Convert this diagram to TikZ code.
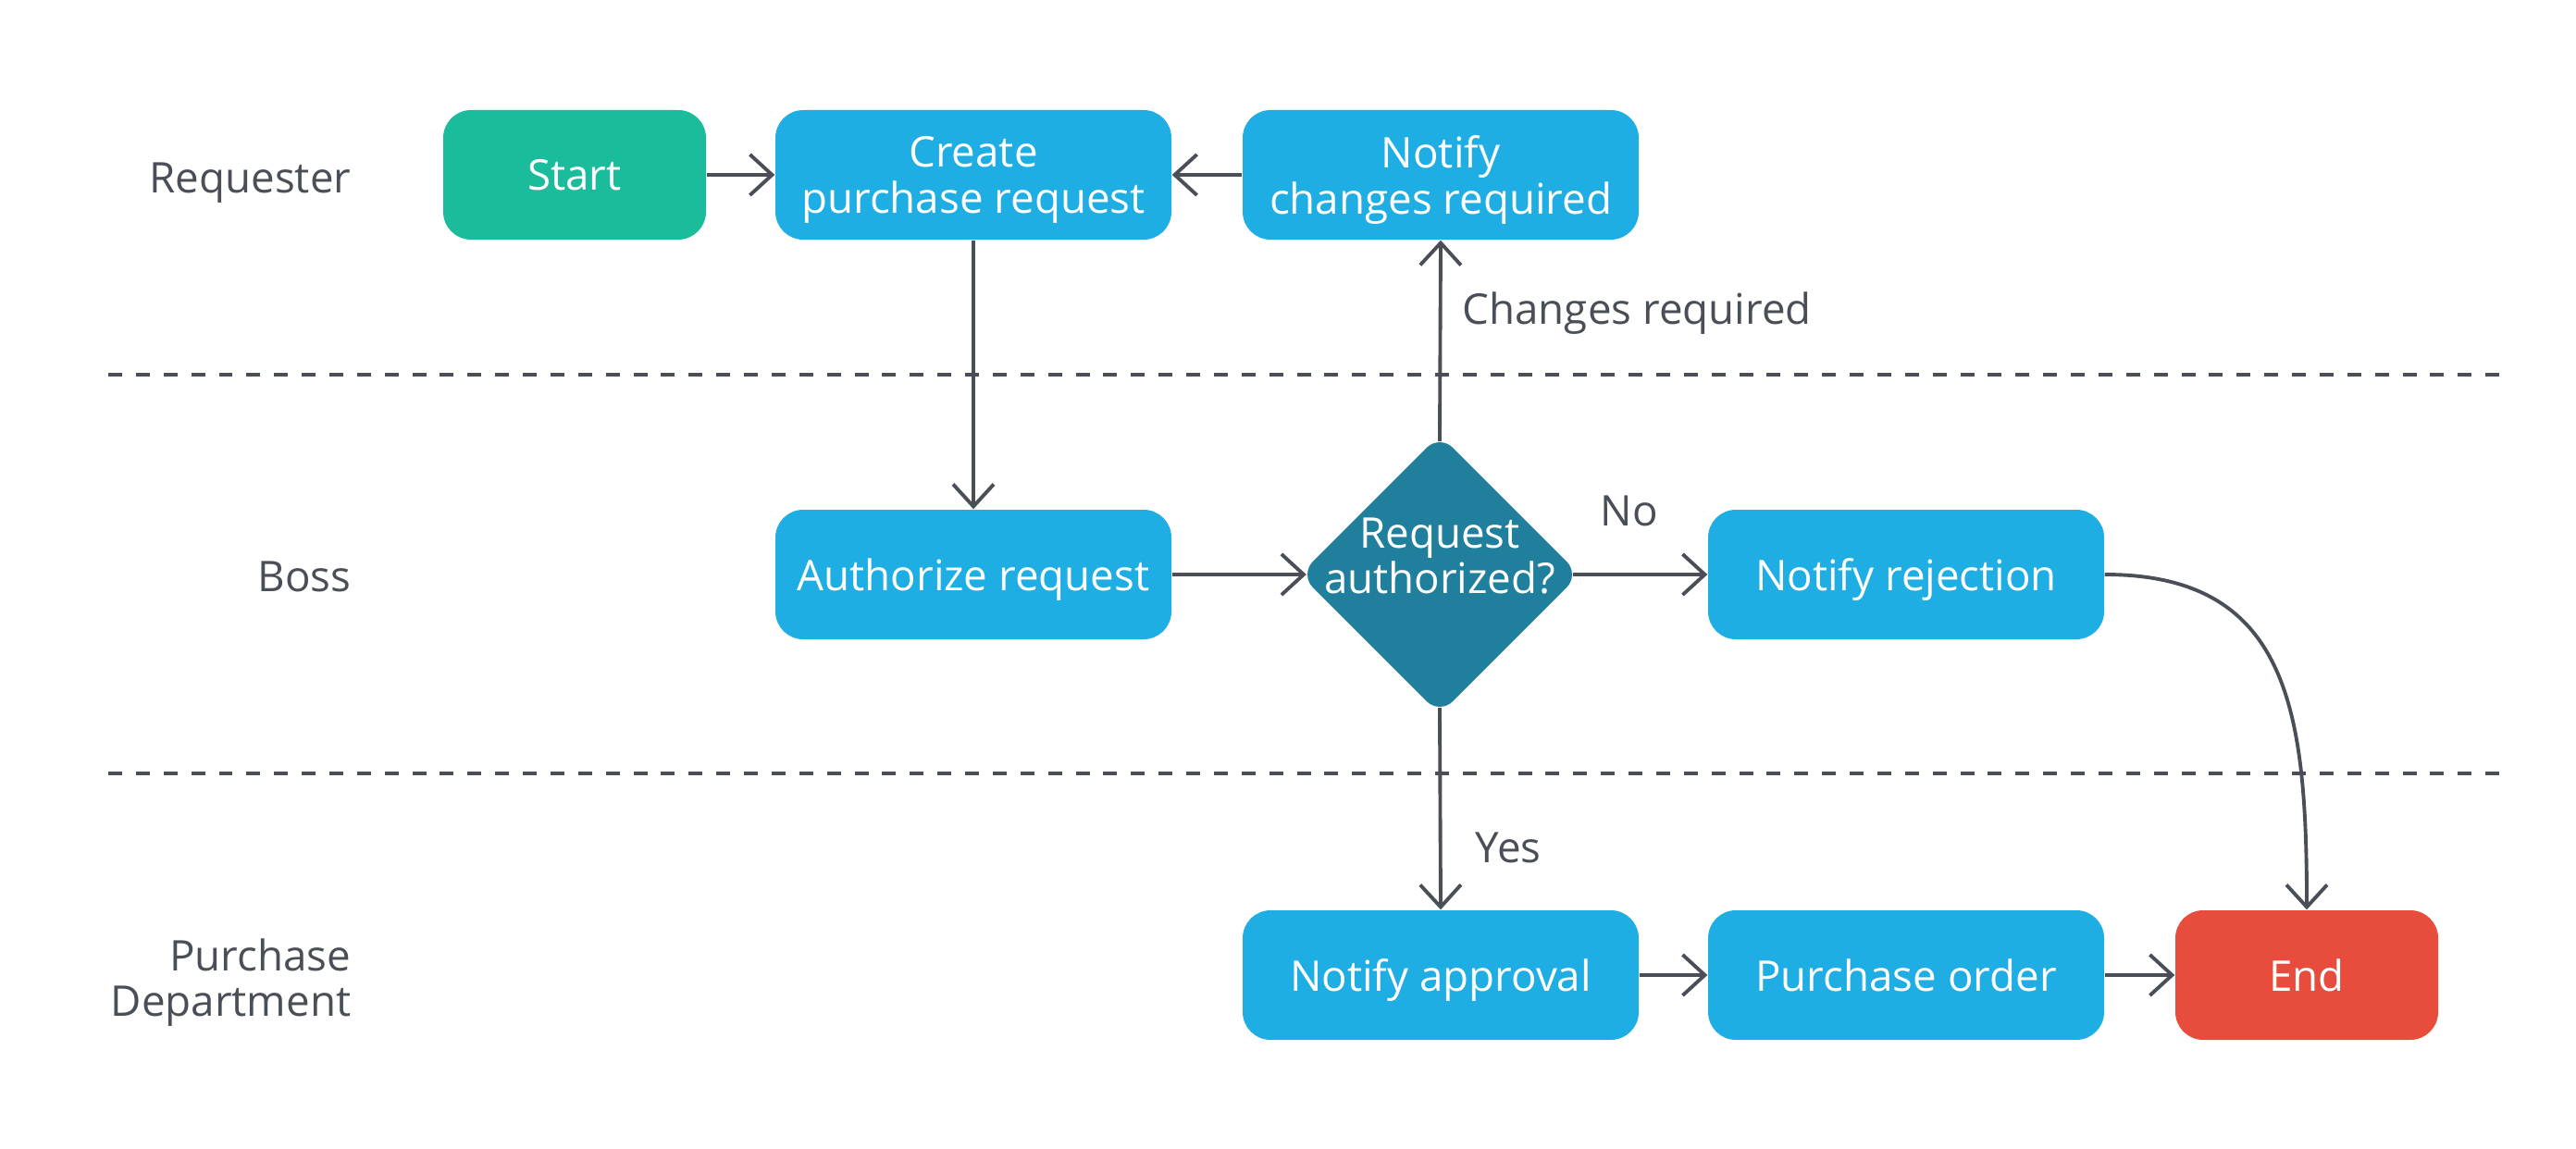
\documentclass[tikz,border=0pt]{standalone}
\usepackage{fontspec}
\setmainfont{Open Sans}
\usetikzlibrary{arrows.meta,positioning,shapes.geometric}
\definecolor{FlowGreen}{HTML}{1ABC9C}
\definecolor{FlowBlue}{HTML}{1EAEE4}
\definecolor{FlowTeal}{HTML}{1F7F9C}
\definecolor{FlowRed}{HTML}{E74C3C}
\definecolor{FlowInk}{HTML}{4A4F57}

\begin{document}
\begin{tikzpicture}[
  >={Straight Barb[length=2.4mm, width=4.4mm]},
  box/.style      = {rounded corners=0.3cm, align=center, text=white, fill=FlowBlue,
                     minimum width=4.28cm, minimum height=1.4cm, inner sep=2pt,
                     text depth=0pt, font=\fontsize{13}{14}\selectfont},
  term/.style     = {box, minimum width=2.84cm},
  decision/.style = {diamond, rounded corners=0.2cm, align=center, text=white, fill=FlowTeal,
                     minimum size=3.03cm, inner sep=-0.3cm, text depth=0.4cm,
                     font=\fontsize{13}{14}\selectfont},
  lane/.style     = {anchor=east, align=right, text=FlowInk, inner sep=0pt,
                     text depth=0pt, font=\fontsize{13}{14}\selectfont},
  lbl/.style      = {text=FlowInk, inner sep=2pt, text depth=0pt,
                     font=\fontsize{13}{14}\selectfont},
  arrow/.style    = {->, draw=FlowInk, line width=1.1pt},
  sep/.style      = {draw=FlowInk, line width=1.4pt, dash pattern=on 4.25pt off 4.25pt}
]
\useasboundingbox (0,0) rectangle (27.84,-12.42);

%% ---- swim lanes -------------------------------------------------------
\node[lane] (lreq)  at (3.80,-1.92)  {Requester};
\node[lane] (lboss) at (3.80,-6.23)  {Boss};
\node[lane] (lpur)  at (3.80,-10.57) {Purchase\\Department};
\foreach \y in {-4.05,-8.36}
  \draw[sep] (1.17,\y) -- (27.11,\y);

%% ---- requester --------------------------------------------------------
\node[term, fill=FlowGreen] (start) at (6.21,-1.89)  {Start};
\node[box] (create) at (10.52,-1.89) {Create\\purchase request};
\node[box] (chg)    at (15.57,-1.89) {Notify\\changes required};

%% ---- boss -------------------------------------------------------------
\node[box]      (auth) at (10.52,-6.21) {Authorize request};
\node[decision] (dec)  at (15.56,-6.21) {Request\\authorized?};
\node[box]      (rej)  at (20.60,-6.21) {Notify rejection};

%% ---- purchase department ----------------------------------------------
\node[box] (appr)  at (15.57,-10.54) {Notify approval};
\node[box] (order) at (20.60,-10.54) {Purchase order};
\node[term, fill=FlowRed] (stop) at (24.93,-10.54) {End};

%% ---- flow -------------------------------------------------------------
\draw[arrow] (start) -- (create);
\draw[arrow] (chg) -- (create);
\draw[arrow] (create) -- (auth);
\draw[arrow, shorten >=-0.8mm] (auth) -- (dec);
\draw[arrow, shorten <=-0.8mm] (dec.north) -- node[lbl, right, pos=0.65, xshift=1.5mm] {Changes required} (chg.south);
\draw[arrow, shorten <=-0.8mm] (dec.east) -- node[lbl, above=4.4mm, xshift=-1.6mm] {No} (rej.west);
\draw[arrow, shorten <=-0.8mm] (dec.south) -- node[lbl, right, pos=0.68, xshift=2.9mm] {Yes} (appr.north);
\draw[arrow] (appr) -- (order);
\draw[arrow] (order) -- (stop);
%% rejection drops into the last lane
\draw[arrow] (rej.east) .. controls +(2.0,0) and +(0,2.13) .. (stop.north);

\end{tikzpicture}
\end{document}
